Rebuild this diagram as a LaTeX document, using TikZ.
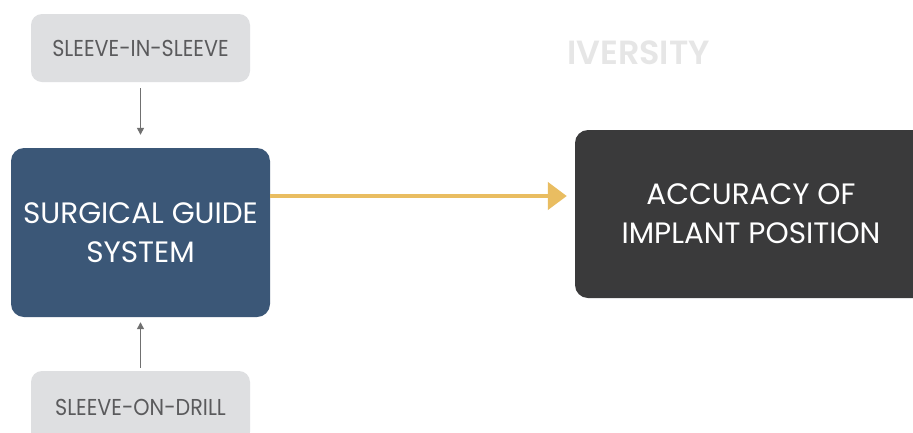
\documentclass[tikz,border=0pt]{standalone}
\usepackage{fontspec}
\setmainfont{Poppins}
\newfontfamily\condfont[FakeStretch=0.9]{Poppins}
\newfontfamily\markfont{Poppins SemiBold}
\usetikzlibrary{arrows.meta}
\definecolor{guideblue}{HTML}{3B5777}
\definecolor{darkbox}{HTML}{3A3A3B}
\definecolor{lightbox}{HTML}{DEDFE1}
\definecolor{labelgray}{HTML}{5A5A5C}
\definecolor{arrowgold}{HTML}{E9BD61}
\definecolor{markgray}{HTML}{E6E6E6}
\definecolor{connectgray}{HTML}{707070}
\begin{document}
\begin{tikzpicture}[x=1pt,y=-1pt,
  smallbox/.style={fill=lightbox, rounded corners=11pt, minimum width=219pt, inner sep=0pt,
    text=labelgray, font=\condfont\fontsize{23}{26}\selectfont},
  bigbox/.style={rounded corners=13pt, inner sep=0pt, text=white, align=center,
    font=\fontsize{29.5}{39}\selectfont},
  thinarrow/.style={draw=connectgray, line width=1.3pt, -{Triangle[length=7pt,width=7pt]}},
  goldarrow/.style={draw=arrowgold, line width=4.5pt, -{Triangle[length=19pt,width=27pt]}}]
\useasboundingbox (0,0) rectangle (913,432);
\fill[white] (0,0) rectangle (913,432);
\node[text=markgray, font=\markfont\fontsize{33.5}{34}\selectfont] (mark) at (638.5,53) {IVERSITY};
\node[smallbox, minimum height=68pt] (sis) at (140.5,48) {SLEEVE-IN-SLEEVE};
\node[bigbox, fill=guideblue, minimum width=259pt, minimum height=169pt] (guide) at (140.5,232.5) {SURGICAL GUIDE\\SYSTEM};
\node[smallbox, minimum height=72pt] (sod) at (140.5,407) {SLEEVE-ON-DRILL};
\node[bigbox, fill=darkbox, minimum width=352pt, minimum height=168pt] (acc) at (751,214) {ACCURACY OF\\IMPLANT POSITION};
\draw[thinarrow] ([yshift=-6pt]sis.south) -- ([yshift=13pt]guide.north);
\draw[thinarrow] ([yshift=3pt]sod.north) -- ([yshift=-5pt]guide.south);
\coordinate (gstart) at ([yshift=36.5pt]guide.east);
\draw[goldarrow] (gstart) -- ([xshift=-8pt]acc.west |- gstart);
\end{tikzpicture}
\end{document}
